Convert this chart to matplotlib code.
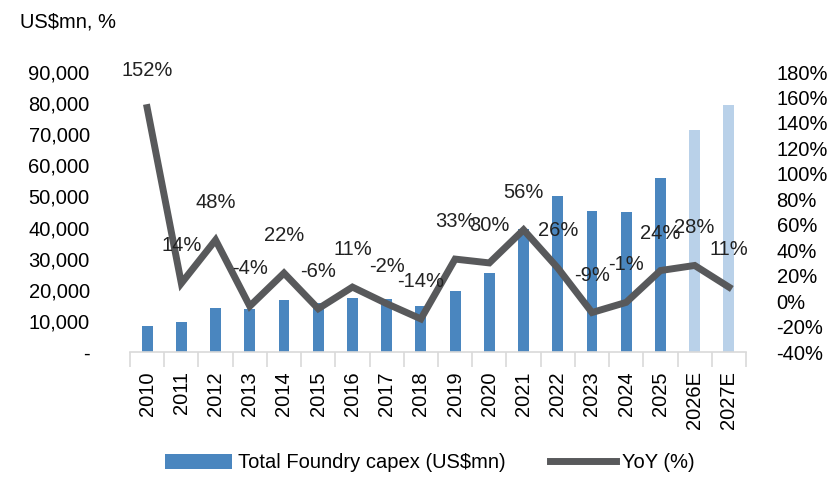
import matplotlib.pyplot as plt
from matplotlib.ticker import FuncFormatter, FixedLocator
from matplotlib import font_manager
import numpy as np

names = {f.name for f in font_manager.fontManager.ttflist}
if 'Liberation Sans Narrow' in names:
    plt.rcParams['font.family'] = ['Liberation Sans Narrow', 'DejaVu Sans']
    fs = 18
else:
    plt.rcParams['font.family'] = ['Liberation Sans', 'DejaVu Sans']
    fs = 14.5

years = ['2010', '2011', '2012', '2013', '2014', '2015', '2016', '2017', '2018',
         '2019', '2020', '2021', '2022', '2023', '2024', '2025', '2026E', '2027E']
capex = [8300, 9600, 14300, 13800, 16700, 15700, 17400, 17100, 14700,
         19500, 25400, 39600, 50000, 45400, 45000, 56000, 71500, 79400]
yoy = [152, 14, 48, -4, 22, -6, 11, -2, -14, 33, 30, 56, 26, -9, -1, 24, 28, 11]
forecast = [False] * 16 + [True, True]

dark_blue = '#4a86bf'
light_blue = '#b9d1e9'
line_grey = '#58595b'

W, H = 834, 478
fig = plt.figure(figsize=(W / 100, H / 100), dpi=100)
ax = fig.add_axes([130 / W, 1 - 352 / H, (746 - 130) / W, (352 - 72) / H])
ax2 = ax.twinx()

x = np.arange(len(years))
colors = [light_blue if f else dark_blue for f in forecast]
bars = ax.bar(x, capex, width=0.32, color=colors, zorder=2)

ax.set_xlim(-0.5, len(years) - 0.5)
ax.set_ylim(0, 90000)
ax.set_yticks(np.arange(0, 90001, 10000))
ax.yaxis.set_major_formatter(FuncFormatter(lambda v, p: '-' if v == 0 else f'{v:,.0f}'))
ax.tick_params(axis='y', length=0, pad=29, labelsize=fs)

ax.set_xticks(x)
ax.set_xticklabels(years, rotation=90, fontsize=fs)
ax.xaxis.set_minor_locator(FixedLocator(np.arange(-0.5, len(years), 1)))
ax.tick_params(axis='x', which='major', length=0, pad=14)
ax.tick_params(axis='x', which='minor', length=11, color='#d9d9d9', width=1.2)

for sp in ['top', 'left', 'right']:
    ax.spines[sp].set_visible(False)
    ax2.spines[sp].set_visible(False)
ax.spines['bottom'].set_color('#d9d9d9')
ax.spines['bottom'].set_linewidth(1.2)
ax2.spines['bottom'].set_visible(False)

line, = ax2.plot(x, yoy, color=line_grey, lw=5, solid_joinstyle='miter', zorder=3)
ax2.set_ylim(-40, 180)
ax2.set_yticks(np.arange(-40, 181, 20))
ax2.yaxis.set_major_formatter(FuncFormatter(lambda v, p: f'{v:.0f}%'))
ax2.tick_params(axis='y', length=0, pad=22, labelsize=fs)

for xi, v in zip(x, yoy):
    ax2.annotate(f'{v}%', (xi, v), xytext=(0, 27), textcoords='offset points',
                 ha='center', va='center', fontsize=fs, color='#222222', zorder=4)

fig.text(20 / W, 1 - 22 / H, 'US$mn, %', fontsize=fs, va='center', ha='left')

fig.legend([bars, line], ['Total Foundry capex (US$mn)', 'YoY (%)'],
           loc='center', bbox_to_anchor=(430 / W, 1 - 463 / H), ncol=2,
           frameon=False, fontsize=fs, handlelength=3.3, handletextpad=0.3,
           columnspacing=2.2)

fig.savefig('out.png', dpi=100)
